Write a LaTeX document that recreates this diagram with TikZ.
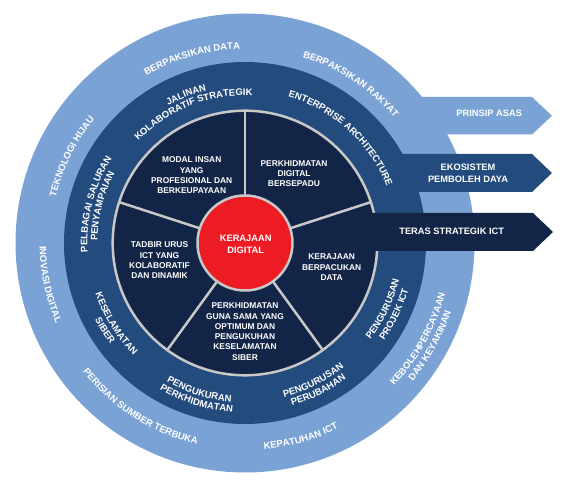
\documentclass[tikz,border=0pt]{standalone}
\usepackage{fontspec}
\setmainfont{Liberation Sans}
\usetikzlibrary{decorations.text}
\definecolor{lightb}{RGB}{122,162,212}
\definecolor{midb}{RGB}{35,75,125}
\definecolor{navyc}{RGB}{19,37,70}
\definecolor{redc}{RGB}{237,28,36}
\definecolor{greyc}{RGB}{200,200,200}
\newcommand\ringfont{\fontsize{9.5}{9.5}\selectfont\bfseries}
\newcommand\cwtxt[3]{\path[decorate,decoration={text along path,text align=center,text color=white,text={|\ringfont|#3}}] ({#1+80}:#2) arc[start angle={#1+80},end angle={#1-80},radius=#2];}
\newcommand\ccwtxt[3]{\path[decorate,decoration={text along path,text align=center,text color=white,text={|\ringfont|#3}}] ({#1-80}:#2) arc[start angle={#1-80},end angle={#1+80},radius=#2];}
\tikzset{
  innertxt/.style={text=white,align=center,font=\fontsize{8.4}{10.3}\selectfont\bfseries,inner sep=0pt},
  redtxt/.style={text=white,align=center,font=\fontsize{9.3}{11.7}\selectfont\bfseries,inner sep=0pt},
  bantxt/.style={text=white,align=center,font=\fontsize{9.3}{12}\selectfont\bfseries,inner sep=0pt},
  spoke/.style={draw=greyc,line width=2.5pt}
}
\begin{document}
\begin{tikzpicture}[x=1pt,y=1pt]
\useasboundingbox (-245,-249) rectangle (323,243);
% outer ring
\fill[lightb] (0,0) circle[radius=229.5];
\fill[lightb] (100,146) -- (287,146) -- (307,127.25) -- (287,108.5) -- (100,108.5) -- cycle;
% middle ring
\fill[midb] (0,0) circle[radius=181];
\fill[midb] (95,89) -- (287,89) -- (307,70) -- (287,51) -- (95,51) -- cycle;
% inner disk
\filldraw[fill=navyc,draw=greyc,line width=2.5pt] (0,0) circle[radius=132.3];
\fill[navyc] (120,30) -- (288,30) -- (308,11) -- (288,-8) -- (120,-8) -- cycle;
% spokes
\foreach \a in {90,162,234,306,18}{
  \draw[spoke] (\a:47) -- (\a:132);
}
% red circle
\filldraw[fill=redc,draw=greyc,line width=2.5pt] (0,0) circle[radius=47.5];
\node[redtxt] (core) at (0.7,-1.2) {KERAJAAN\\DIGITAL};
% inner sector texts
\node[innertxt] (modal) at (-53.3,67.5) {MODAL INSAN\\YANG\\PROFESIONAL DAN\\BERKEUPAYAAN};
\node[innertxt] (perkd) at (49,69.5) {PERKHIDMATAN\\DIGITAL\\BERSEPADU};
\node[innertxt] (tadbir) at (-85.5,-17.4) {TADBIR URUS\\ICT YANG\\KOLABORATIF\\DAN DINAMIK};
\node[innertxt] (kdata) at (86.7,-24.3) {KERAJAAN\\BERPACUKAN\\DATA};
\node[innertxt] (guna) at (0,-88.7) {PERKHIDMATAN\\GUNA SAMA YANG\\OPTIMUM DAN\\PENGUKUHAN\\KESELAMATAN\\SIBER};
% banner texts
\node[bantxt] (prinsip) at (244.2,129.7) {PRINSIP ASAS};
\node[bantxt] (ekos) at (223,69.7) {EKOSISTEM\\PEMBOLEH DAYA};
\node[bantxt] (teras) at (206.7,11.3) {TERAS STRATEGIK ICT};
% outer ring texts
\cwtxt{106}{194.1}{BERPAKSIKAN DATA}
\cwtxt{56.3}{194.6}{BERPAKSIKAN RAKYAT}
\cwtxt{153.5}{194.6}{TEKNOLOGI HIJAU}
\ccwtxt{192}{205.4}{INOVASI DIGITAL}
\ccwtxt{237.5}{206.9}{PERISIAN SUMBER TERBUKA}
\ccwtxt{286}{207.4}{KEPATUHAN ICT}
\ccwtxt{331}{206.4}{KEBOLEHPERCAYAAN}
\ccwtxt{331}{217.4}{DAN KEYAKINAN}
% middle ring texts
\cwtxt{111.7}{157.1}{JALINAN}
\cwtxt{111.7}{147.6}{KOLABORATIF STRATEGIK}
\cwtxt{47.6}{152.6}{ENTERPRISE ARCHITECTURE}
\cwtxt{165.5}{157.6}{PELBAGAI SALURAN}
\cwtxt{165.5}{147.6}{PENYAMPAIAN}
\ccwtxt{212}{157.9}{KESELAMATAN}
\ccwtxt{212}{168.4}{SIBER}
\ccwtxt{252.8}{159.4}{PENGUKURAN}
\ccwtxt{252.8}{169.4}{PERKHIDMATAN}
\ccwtxt{296.4}{158.8}{PENGURUSAN}
\ccwtxt{296.4}{169.4}{PERUBAHAN}
\ccwtxt{334.5}{158.4}{PENGURUSAN}
\ccwtxt{334.5}{169.9}{PROJEK ICT}
\end{tikzpicture}
\end{document}
